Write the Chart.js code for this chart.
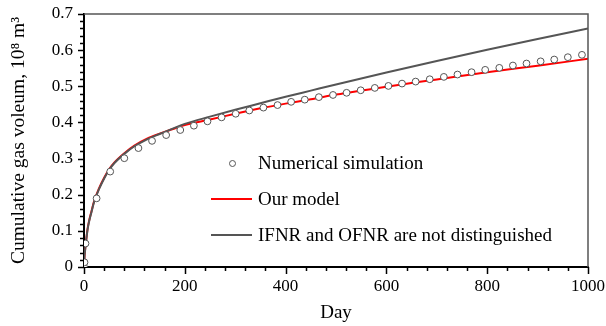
<!DOCTYPE html>
<html>
<head>
<meta charset="utf-8">
<script src="https://cdn.jsdelivr.net/npm/chart.js@4.4.1/dist/chart.umd.min.js"></script>
<style>
  html, body { margin: 0; padding: 0; background: #fff; }
  #wrap { position: relative; width: 606px; height: 326px; font-family: "Liberation Serif", "Times New Roman", serif; }
  #legend { position: absolute; left: 211px; top: 151px; font-size: 19px; color: #000; }
  .row { position: relative; height: 36px; line-height: 24px; }
  .row .txt { position: absolute; left: 47px; top: 0; white-space: nowrap; }
  .sym { position: absolute; }
  .dot { left: 18px; top: 9px; width: 5px; height: 5px; border: 1px solid #555; border-radius: 50%; background: #fff; }
  .ln { left: 0; top: 11px; width: 41px; height: 2px; }
</style>
</head>
<body>
<div id="wrap">
  <canvas id="chart" width="606" height="326"></canvas>
  <div id="legend">
    <div class="row"><span class="sym dot"></span><span class="txt">Numerical simulation</span></div>
    <div class="row"><span class="sym ln" style="background:#ff0000"></span><span class="txt">Our model</span></div>
    <div class="row"><span class="sym ln" style="background:#555"></span><span class="txt">IFNR and OFNR are not distinguished</span></div>
  </div>
</div>
<script>
// numerical simulation points (day, 10^8 m3)
const simDays = [0, 1, 3, 25, 52, 80, 108, 135, 163, 191, 218, 245, 273, 301, 328, 356, 384, 411, 438, 466,
  494, 521, 549, 577, 604, 631, 658, 686, 714, 741, 769, 796, 824, 851, 878, 906, 933, 960, 988];
const simValues = [0, 0.013, 0.065, 0.19, 0.264, 0.301, 0.329, 0.349, 0.365, 0.379, 0.391, 0.403, 0.414, 0.424, 0.433, 0.441, 0.448, 0.457, 0.463, 0.470,
  0.476, 0.482, 0.489, 0.4955, 0.501, 0.5075, 0.513, 0.5195, 0.526, 0.5325, 0.539, 0.5455, 0.551, 0.5575, 0.563, 0.569, 0.574, 0.5805, 0.587];

// model curves
const curveDays = [0, 1, 2, 4, 7, 10, 15, 20, 30, 40, 50, 60, 80, 100, 125, 150, 175, 200, 250, 300, 350, 400, 450, 500, 600, 700, 800, 900, 1000];
const ourModel = [0, 0.03, 0.045, 0.07, 0.105, 0.127, 0.155, 0.182, 0.218, 0.247, 0.271, 0.289, 0.315, 0.336, 0.355, 0.369, 0.381, 0.393, 0.408, 0.424, 0.439, 0.452, 0.464, 0.477, 0.499, 0.519, 0.539, 0.557, 0.576];
const notDistinguished = [0, 0.029, 0.044, 0.069, 0.103, 0.125, 0.153, 0.18, 0.216, 0.245, 0.269, 0.287, 0.313, 0.334, 0.353, 0.368, 0.382, 0.396, 0.416, 0.435, 0.453, 0.471, 0.488, 0.505, 0.538, 0.570, 0.601, 0.631, 0.66];

const xTicks = [0, 200, 400, 600, 800, 1000];
const yTicks = [0, 0.1, 0.2, 0.3, 0.4, 0.5, 0.6, 0.7];

const FONT = '"Liberation Serif", "Times New Roman", serif';

function pairs(xs, ys) {
  return xs.map((x, i) => ({ x: x, y: ys[i] }));
}

// frame on top/right + outward tick marks with minor ticks
const frameTicks = {
  id: "frameTicks",
  afterDraw(chart) {
    const ctx = chart.ctx;
    const a = chart.chartArea;
    const xs = chart.scales.x;
    const ys = chart.scales.y;
    ctx.save();
    ctx.strokeStyle = "#555";
    ctx.lineWidth = 1.5;
    ctx.beginPath();
    ctx.moveTo(a.left, a.top);
    ctx.lineTo(a.right, a.top);
    ctx.lineTo(a.right, a.bottom);
    ctx.stroke();

    ctx.strokeStyle = "#000";
    ctx.lineWidth = 1.5;
    ctx.beginPath();
    for (let d = 0; d <= 1000; d += 40) {
      const px = Math.round(xs.getPixelForValue(d)) + 0.5;
      const len = d % 200 === 0 ? 7 : 4;
      ctx.moveTo(px, a.bottom);
      ctx.lineTo(px, a.bottom + len);
    }
    for (let k = 0; k <= 35; k++) {
      const py = Math.round(ys.getPixelForValue(k * 0.02)) + 0.5;
      const len = k % 5 === 0 ? 6 : 4;
      ctx.moveTo(a.left, py);
      ctx.lineTo(a.left - len, py);
    }
    ctx.stroke();
    ctx.restore();
  },
};

new Chart(document.getElementById("chart"), {
  type: "scatter",
  data: {
    datasets: [
      {
        label: "Numerical simulation",
        data: pairs(simDays, simValues),
        showLine: false,
        pointRadius: 3.4,
        pointBorderWidth: 1,
        pointBorderColor: "#555",
        pointBackgroundColor: "#fff",
        order: 0,
      },
      {
        label: "IFNR and OFNR are not distinguished",
        data: pairs(curveDays, notDistinguished),
        showLine: true,
        borderColor: "#555",
        borderWidth: 2,
        pointRadius: 0,
        cubicInterpolationMode: "monotone",
        order: 1,
      },
      {
        label: "Our model",
        data: pairs(curveDays, ourModel),
        showLine: true,
        borderColor: "#ff0000",
        borderWidth: 2,
        pointRadius: 0,
        cubicInterpolationMode: "monotone",
        order: 2,
      },
    ],
  },
  options: {
    responsive: false,
    animation: false,
    layout: { padding: { top: 14, right: 18, left: 0, bottom: 0 } },
    plugins: { legend: { display: false }, tooltip: { enabled: false } },
    scales: {
      x: {
        type: "linear",
        min: 0,
        max: 1000,
        afterBuildTicks: (s) => { s.ticks = xTicks.map((v) => ({ value: v })); },
        afterFit: (s) => { s.height = 59; s.paddingLeft = 0; s.paddingRight = 0; },
        ticks: {
          color: "#000",
          font: { family: FONT, size: 17 },
          padding: 9,
          maxRotation: 0,
          callback: (v) => String(v),
        },
        grid: { display: false, drawTicks: false },
        border: { color: "#000", width: 2 },
        title: { display: true, text: "Day", color: "#000", font: { family: FONT, size: 19 }, padding: { top: 0, bottom: 2 } },
      },
      y: {
        min: 0,
        max: 0.7,
        afterBuildTicks: (s) => { s.ticks = yTicks.map((v) => ({ value: v })); },
        afterFit: (s) => { s.width = 84; s.paddingTop = 0; s.paddingBottom = 0; },
        ticks: {
          color: "#000",
          font: { family: FONT, size: 17 },
          padding: 11,
          callback: (v) => String(+v.toFixed(1)),
        },
        grid: { display: false, drawTicks: false },
        border: { color: "#000", width: 2 },
        title: { display: true, text: "Cumulative gas voleum, 10\u2078 m\u00B3", color: "#000", font: { family: FONT, size: 19.5 }, padding: { top: 7, bottom: 0 } },
      },
    },
  },
  plugins: [frameTicks],
});
</script>
</body>
</html>
